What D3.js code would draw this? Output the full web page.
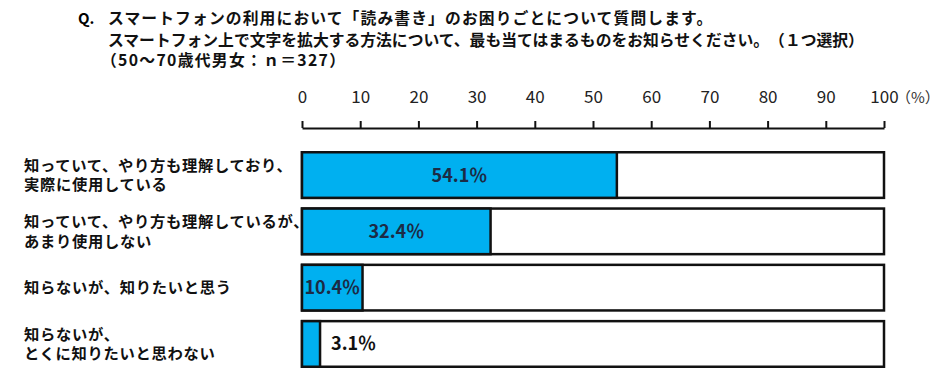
<!DOCTYPE html>
<html>
<head>
<meta charset="utf-8">
<script src="https://cdn.jsdelivr.net/npm/d3@7"></script>
<style>
  body { margin: 0; background: #fff; }
  text { font-family: "Noto Sans CJK JP", "Noto Sans", sans-serif; text-spacing-trim: space-all; }
</style>
</head>
<body>
<div id="chart"></div>
<script>
var titleLines = [
  "スマートフォンの利用において「読み書き」のお困りごとについて質問します。",
  "スマートフォン上で文字を拡大する方法について、最も当てはまるものをお知らせください。（１つ選択）",
  "（50～70歳代男女：ｎ＝327）"
];
var categories = [
  ["知っていて、やり方も理解しており、", "実際に使用している"],
  ["知っていて、やり方も理解しているが、", "あまり使用しない"],
  ["知らないが、知りたいと思う"],
  ["知らないが、", "とくに知りたいと思わない"]
];
var values = [54.1, 32.4, 10.4, 3.1];
var tickValues = [0, 10, 20, 30, 40, 50, 60, 70, 80, 90, 100];

function drawChart(placement, w, h) {
  var margins = {top: 128, right: 58, bottom: 20, left: 302};
  var barColor = "#00b0f0";

  var svg = d3.select(placement).append("svg")
    .attr("width", w).attr("height", h);
  svg.append("rect").attr("width", w).attr("height", h).attr("fill", "#fff");

  // title block
  svg.append("text")
    .attr("x", 78).attr("y", 24)
    .attr("font-size", "15px").attr("font-weight", "bold")
    .text("Q.");
  var titleY = [24, 46, 66];
  var titleSpacing = ["1.1px", "0px", "1.3px"];
  svg.selectAll(".title")
    .data(titleLines)
    .enter().append("text")
    .attr("class", "title")
    .attr("x", function(d, i) { return i == 2 ? 101 : 108; })
    .attr("y", function(d, i) { return titleY[i]; })
    .attr("font-size", "15.8px").attr("font-weight", "bold")
    .attr("letter-spacing", function(d, i) { return titleSpacing[i]; })
    .attr("fill", "#111")
    .text(function(d) { return d; });

  var x = d3.scaleLinear().domain([0, 100]).range([margins.left, w - margins.right]);
  var y = d3.scaleBand()
    .domain(d3.range(categories.length))
    .range([150, h - 19])
    .paddingInner(0.19).paddingOuter(0.04);

  // axis
  var xAxis = d3.axisTop(x).tickValues(tickValues).tickSizeInner(7).tickSizeOuter(0).tickFormat(d3.format("d"));
  var axisG = svg.append("g")
    .attr("transform", "translate(0," + margins.top + ")")
    .call(xAxis);
  axisG.select(".domain").attr("stroke", "#111").attr("stroke-width", 2.2);
  axisG.selectAll(".tick line").attr("stroke", "#111").attr("stroke-width", 2);
  axisG.selectAll(".tick text")
    .attr("y", -25)
    .attr("font-family", "Liberation Sans Narrow, Liberation Sans, sans-serif")
    .attr("font-size", "17px").attr("fill", "#222");
  svg.append("text")
    .attr("x", x(100) + 12).attr("y", 103)
    .attr("font-size", "15px").attr("fill", "#333")
    .text("（%）");

  // bars
  var rows = svg.selectAll(".row")
    .data(values)
    .enter().append("g")
    .attr("class", "row")
    .attr("transform", function(d, i) { return "translate(0," + y(i) + ")"; });

  rows.append("rect")
    .attr("x", x(0)).attr("width", x(100) - x(0))
    .attr("height", y.bandwidth())
    .attr("fill", "#fff").attr("stroke", "#111").attr("stroke-width", 2.5);
  rows.append("rect")
    .attr("x", x(0)).attr("width", function(d) { return x(d) - x(0); })
    .attr("height", y.bandwidth())
    .attr("fill", barColor).attr("stroke", "#111").attr("stroke-width", 2.5);

  rows.append("text")
    .attr("x", function(d) { return d < 8 ? x(d) + 11 : (x(0) + x(d)) / 2; })
    .attr("y", y.bandwidth() / 2)
    .attr("dy", "0.36em")
    .attr("text-anchor", function(d) { return d < 8 ? "start" : "middle"; })
    .attr("font-size", "18px").attr("font-weight", "bold")
    .attr("font-family", "Liberation Sans, Noto Sans, sans-serif")
    .attr("fill", function(d) { return d < 8 ? "#111" : "#1c2b45"; })
    .text(function(d) { return d3.format(".1f")(d) + "％"; });

  // category labels
  rows.each(function(d, i) {
    var lines = categories[i];
    var g = d3.select(this);
    lines.forEach(function(t, j) {
      g.append("text")
        .attr("x", 24)
        .attr("y", y.bandwidth() / 2 + (j - (lines.length - 1) / 2) * 19.5)
        .attr("dy", "0.36em")
        .attr("font-size", "15.3px").attr("font-weight", "bold")
        .attr("letter-spacing", "0.7px")
        .attr("fill", "#111")
        .text(t);
    });
  });
}

drawChart("#chart", 942, 388);
</script>
</body>
</html>
